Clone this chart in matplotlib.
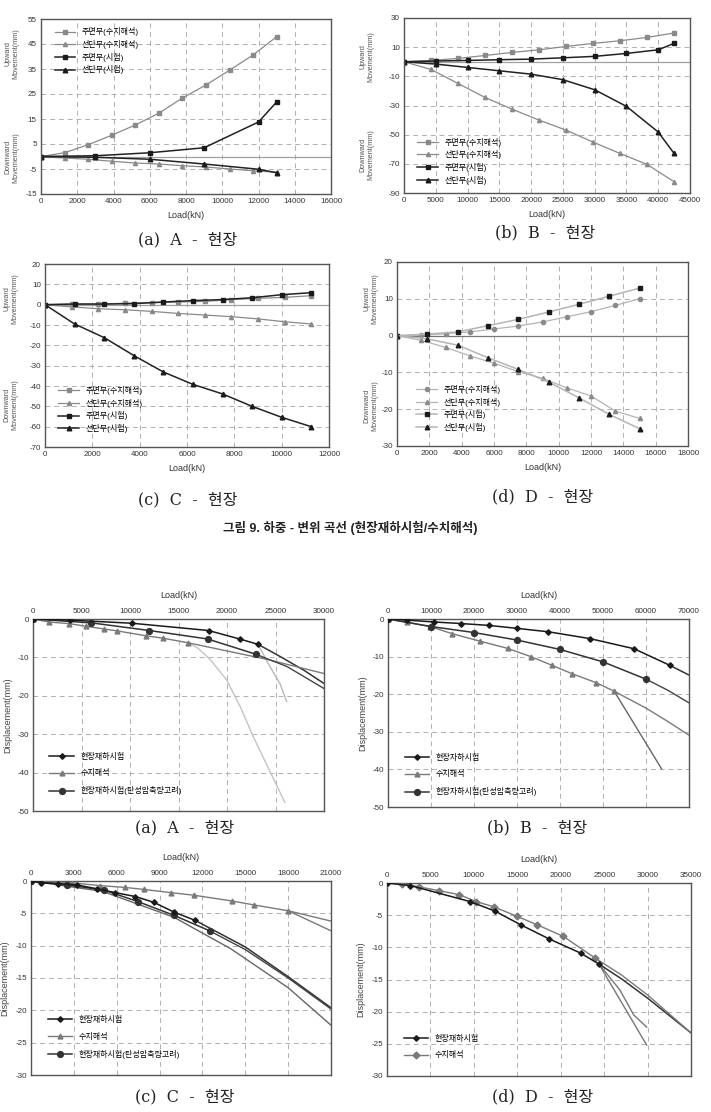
import matplotlib
matplotlib.use("Agg")
import matplotlib.pyplot as plt

plt.rcParams['font.family'] = ['Liberation Sans', 'Noto Sans CJK KR']
plt.rcParams['axes.unicode_minus'] = False

# ---------------- Top figure data (Fig. 9) ----------------
LBL_TOP = ['주면부(수치해석)', '선단부(수치해석)', '주면부(시험)', '선단부(시험)']

A_x_num = [0, 1300, 2600, 3900, 5200, 6500, 7800, 9100, 10400, 11700, 13000]
A_skin_num = [0, 1.5, 4.7, 8.5, 12.6, 17.3, 23.4, 28.6, 34.5, 40.6, 47.9]
A_tip_num = [0, -0.6, -1.1, -1.9, -2.6, -3.0, -3.7, -4.2, -5.0, -5.7, -6.3]
A_x_test = [0, 3000, 6000, 9000, 12000, 13000]
A_skin_test = [0, 0.3, 1.5, 3.5, 13.8, 21.8]
A_tip_test = [0, -0.3, -1.1, -3.0, -5.1, -6.5]

B_x_num = [0, 4250, 8500, 12750, 17000, 21250, 25500, 29750, 34000, 38250, 42500]
B_skin_num = [0, 0.9, 2.3, 4.3, 6.4, 8.2, 10.5, 12.6, 14.4, 16.7, 19.7]
B_tip_num = [0, -5.3, -14.9, -24.5, -32.5, -40.0, -46.9, -55.1, -62.9, -70.4, -82.3]
B_x_test = [0, 5000, 10000, 15000, 20000, 25000, 30000, 35000, 40000, 42500]
B_skin_test = [0, 0.5, 0.9, 1.4, 1.8, 2.7, 3.7, 5.7, 8.2, 12.6]
B_tip_test = [0, -1.6, -3.9, -6.2, -8.5, -12.3, -19.2, -30.6, -48.2, -62.9]

C_x_num = [0, 1125, 2250, 3375, 4500, 5625, 6750, 7875, 9000, 10125, 11250]
C_skin_num = [0, 0.3, 0.3, 0.7, 1.0, 1.3, 1.6, 2.5, 3.1, 3.6, 4.4]
C_tip_num = [0, -1.1, -2.0, -2.5, -3.3, -4.3, -5.1, -5.9, -7.0, -8.4, -9.5]
C_x_test = [0, 1250, 2500, 3750, 5000, 6250, 7500, 8750, 10000, 11250]
C_skin_test = [0, 0.3, 0.3, 0.5, 1.3, 2.0, 2.5, 3.4, 4.9, 5.9]
C_tip_test = [0, -9.5, -16.2, -25.0, -33.1, -39.2, -43.9, -50.0, -55.4, -60.0]

D_x_num = [0, 1500, 3000, 4500, 6000, 7500, 9000, 10500, 12000, 13500, 15000]
D_skin_num = [0, 0.1, 0.5, 1.0, 1.8, 2.6, 3.7, 5.1, 6.5, 8.2, 10.0]
D_tip_num = [0, -1.3, -3.2, -5.5, -7.5, -9.8, -11.6, -14.2, -16.4, -20.5, -22.5]
D_x_test = [0, 1875, 3750, 5625, 7500, 9375, 11250, 13125, 15000]
D_skin_test = [0, 0.4, 1.0, 2.7, 4.4, 6.4, 8.5, 10.7, 12.9]
D_tip_test = [0, -0.9, -2.6, -6.0, -9.2, -12.6, -16.9, -21.4, -25.3]

# ---------------- Bottom figure data ----------------
LBL_BOT = ['현장재하시험', '수치해석', '현장재하시험(탄성압축량고려)']
LBL_BOT_B = ['현장자하시험', '수치해석', '현장자하시험(탄성압축량고려)']

BA_field_x = [0, 3800, 10200, 18100, 21300, 23200]
BA_field_y = [0, -0.3, -1.1, -3.0, -5.2, -6.6]
BA_field_ext_x = [23200, 25500, 27900, 30000]
BA_field_ext_y = [-6.6, -9.8, -13.3, -16.8]
BA_num_x = [0, 1700, 3700, 5500, 7300, 8700, 11700, 13400, 16000]
BA_num_y = [0, -0.8, -1.2, -1.9, -2.6, -3.1, -4.4, -5.0, -6.2]
BA_num_ext_x = [16000, 24100, 30000]
BA_num_ext_y = [-6.2, -10.5, -14.2]
BA_el_x = [0, 6000, 12000, 18000, 23000]
BA_el_y = [0, -1.0, -3.0, -5.2, -9.2]
BA_el_ext_x = [23000, 26200, 30000]
BA_el_ext_y = [-9.2, -12.4, -18.1]
BA_fit1_x = [16000, 17000, 18250, 19970, 21400, 22700, 25970]
BA_fit1_y = [-6.2, -7.6, -10.5, -15.9, -23.0, -30.6, -47.8]
BA_fit2_x = [23200, 24430, 25460, 26150]
BA_fit2_y = [-6.6, -12.4, -16.8, -21.5]

BB_field_x = [0, 4400, 10800, 16900, 23400, 30100, 37300, 46900, 57200, 65500]
BB_field_y = [0, -0.3, -0.8, -1.2, -1.7, -2.5, -3.4, -5.2, -7.9, -12.3]
BB_field_ext_x = [65500, 70000]
BB_field_ext_y = [-12.3, -14.9]
BB_num_x = [0, 4400, 9800, 14900, 21400, 27800, 33200, 38100, 42700, 48300, 52600]
BB_num_y = [0, -0.9, -2.0, -3.9, -5.9, -7.8, -10.0, -12.3, -14.5, -16.9, -19.2]
BB_num_ext1_x = [52600, 60000, 65000, 70000]
BB_num_ext1_y = [-19.2, -23.7, -27.2, -30.9]
BB_num_ext2_x = [52600, 63600]
BB_num_ext2_y = [-19.2, -39.8]
BB_el_x = [0, 10000, 20000, 30000, 40000, 50000, 60000]
BB_el_y = [0, -2.0, -3.6, -5.6, -8.1, -11.4, -16.0]
BB_el_ext_x = [60000, 65000, 70000]
BB_el_ext_y = [-16.0, -18.9, -22.3]

BC_field_x = [0, 700, 1900, 3200, 4600, 5900, 7300, 8600, 10000, 11500]
BC_field_y = [0, -0.3, -0.4, -0.6, -1.2, -1.8, -2.4, -3.3, -4.8, -6.1]
BC_field_ext_x = [11500, 15000, 18000, 21000]
BC_field_ext_y = [-6.1, -10.2, -14.8, -19.6]
BC_num_x = [0, 2900, 4800, 6600, 7900, 9800, 11400, 14100, 15600, 18000]
BC_num_y = [0, -0.3, -0.7, -1.0, -1.3, -1.8, -2.2, -3.1, -3.7, -4.6]
BC_num_ext1_x = [18000, 21000]
BC_num_ext1_y = [-4.6, -6.2]
BC_num_ext2_x = [18000, 21000]
BC_num_ext2_y = [-4.6, -7.7]
BC_el_x = [0, 2500, 5100, 7500, 10000, 12500]
BC_el_y = [0, -0.6, -1.4, -3.2, -5.3, -7.7]
BC_el_ext_x = [12500, 15000, 18000, 21000]
BC_el_ext_y = [-7.7, -10.6, -15.0, -19.8]
BC_fit_x = [0, 5000, 10000, 14000, 18000, 21000]
BC_fit_y = [0, -1.6, -5.6, -10.5, -16.5, -22.3]

BD_field_x = [0, 2700, 9600, 12400, 15400, 18600, 22300, 24400]
BD_field_y = [0, -0.4, -2.9, -4.35, -6.5, -8.65, -10.9, -12.6]
BD_field_ext_x = [24400, 27000, 30000, 35000]
BD_field_ext_y = [-12.6, -14.9, -17.9, -23.3]
BD_num_x = [0, 1700, 3700, 6000, 8300, 10300, 12300, 15000, 17300, 20300, 24000]
BD_num_y = [0, -0.15, -0.6, -1.2, -1.8, -2.9, -3.7, -5.2, -6.5, -8.3, -11.7]
BD_num_ext_x = [24000, 27000, 30000, 35000]
BD_num_ext_y = [-11.7, -14.3, -17.4, -23.3]
BD_fit1_x = [24400, 29900]
BD_fit1_y = [-12.6, -25.2]
BD_fit2_x = [24400, 26800, 28400, 29900]
BD_fit2_y = [-12.6, -16.6, -20.5, -22.4]

W, H = 711, 1112
fig = plt.figure(figsize=(W / 100, H / 100), dpi=100)


def add_ax(l, r, t, b):
    return fig.add_axes([l / W, 1 - b / H, (r - l) / W, (b - t) / H])


GRAY = '#8a8a8a'
BLACK = '#1a1a1a'
TICKFS = 5.8


def style(ax, xlim, xticks, ylim, yticks, top=False):
    ax.set_xlim(*xlim)
    ax.set_ylim(*ylim)
    ax.set_xticks(xticks)
    ax.set_yticks(yticks)
    ax.grid(True, linestyle=(0, (5, 4)), color='#b0b0b0', linewidth=0.7)
    ax.set_axisbelow(True)
    ax.tick_params(length=0, labelsize=TICKFS, pad=3, colors='#333333')
    for s in ax.spines.values():
        s.set_color('#555555')
        s.set_linewidth(1.0)
    if top:
        ax.xaxis.tick_top()
        ax.xaxis.set_label_position('top')
        ax.set_xlabel('Load(kN)', fontsize=6.5, labelpad=7, color='#333333')
    else:
        ax.set_xlabel('Load(kN)', fontsize=6.5, labelpad=4, color='#333333')


def updown(ax, xf, yup, ydn):
    ax.text(xf, yup, 'Upward\nMovement(mm)', transform=ax.transAxes, rotation=90,
            ha='center', va='center', fontsize=5.2, color='#555555', linespacing=1.1)
    ax.text(xf, ydn, 'Downward\nMovement(mm)', transform=ax.transAxes, rotation=90,
            ha='center', va='center', fontsize=5.2, color='#555555', linespacing=1.1)


def top_series(ax, xn, sn, tn, xt, st, tt, light=False):
    lc_g = '#b5b5b5' if light else GRAY
    lc_b = '#b5b5b5' if light else '#222222'
    ax.plot(xn, sn, color=lc_g, lw=0.9, marker='o' if light else 's', ms=3,
            mfc=GRAY, mec=GRAY, label=LBL_TOP[0])
    ax.plot(xn, tn, color=lc_g, lw=0.9, marker='^', ms=3,
            mfc=GRAY, mec=GRAY, label=LBL_TOP[1])
    ax.plot(xt, st, color=lc_b, lw=1.1, marker='s', ms=3.5,
            mfc=BLACK, mec=BLACK, label=LBL_TOP[2])
    ax.plot(xt, tt, color=lc_b, lw=1.1, marker='^', ms=3.3,
            mfc=BLACK, mec=BLACK, label=LBL_TOP[3])


def caption(x, y, letter, site):
    fig.text(x / W, 1 - y / H, '(%s)  %s  -  현장' % (letter, site), ha='center', va='center',
             fontsize=11.5, family=['DejaVu Serif', 'Noto Sans CJK KR'], color='#222222')


# ---- top (a)
ax = add_ax(41, 331, 19, 194)
style(ax, (0, 16000), range(0, 16001, 2000), (-15, 55), range(-15, 56, 10))
ax.axhline(0, color='#a0a0a0', lw=0.9)
top_series(ax, A_x_num, A_skin_num, A_tip_num, A_x_test, A_skin_test, A_tip_test)
updown(ax, -0.10, 0.80, 0.21)
ax.legend(loc='upper left', bbox_to_anchor=(0.03, 0.98), frameon=False, fontsize=5.8,
          handlelength=2.6, labelspacing=0.45, borderaxespad=0.2)
caption(188, 240, 'a', 'A')

# ---- top (b)
ax = add_ax(404, 690, 18, 193)
style(ax, (0, 45000), range(0, 45001, 5000), (-90, 30), range(-90, 31, 20))
ax.axhline(0, color='#a0a0a0', lw=0.9)
top_series(ax, B_x_num, B_skin_num, B_tip_num, B_x_test, B_skin_test, B_tip_test)
updown(ax, -0.13, 0.78, 0.22)
ax.legend(loc='lower left', bbox_to_anchor=(0.03, 0.02), frameon=False, fontsize=5.8,
          handlelength=2.6, labelspacing=0.45, borderaxespad=0.2)
caption(545, 233, 'b', 'B')

# ---- top (c)
ax = add_ax(45, 329, 264, 447)
style(ax, (0, 12000), range(0, 12001, 2000), (-70, 20), range(-70, 21, 10))
ax.axhline(0, color='#a0a0a0', lw=0.9)
top_series(ax, C_x_num, C_skin_num, C_tip_num, C_x_test, C_skin_test, C_tip_test)
updown(ax, -0.12, 0.81, 0.23)
ax.legend(loc='lower left', bbox_to_anchor=(0.03, 0.05), frameon=False, fontsize=5.8,
          handlelength=2.6, labelspacing=0.45, borderaxespad=0.2)
caption(188, 500, 'c', 'C')

# ---- top (d)
ax = add_ax(397, 688, 262, 446)
style(ax, (0, 18000), range(0, 18001, 2000), (-30, 20), range(-30, 21, 10))
ax.axhline(0, color='#777777', lw=0.9)
top_series(ax, D_x_num, D_skin_num, D_tip_num, D_x_test, D_skin_test, D_tip_test, light=True)
updown(ax, -0.09, 0.80, 0.22)
ax.legend(loc='lower left', bbox_to_anchor=(0.05, 0.05), frameon=False, fontsize=5.8,
          handlelength=2.6, labelspacing=0.45, borderaxespad=0.2)
caption(543, 497, 'd', 'D')

# ---- figure caption
fig.text(350 / W, 1 - 528 / H, '그림 9. 하중 - 변위 곡선 (현장재하시험/수치해석)', ha='center', va='center',
         fontsize=9, fontweight='bold', color='#222222')


def bottom_style(ax, xmax, xstep, ymin, ystep):
    style(ax, (0, xmax), range(0, xmax + 1, xstep), (ymin, 0), range(ymin, 1, ystep), top=True)
    ax.set_ylabel('Displacement(mm)', fontsize=6.5, color='#444444', labelpad=4)


def bottom_main(ax, fx, fy, nx, ny, ex, ey, labels, nmarker='^'):
    ax.plot(fx, fy, color=BLACK, lw=1.1, marker='D', ms=2.8, mfc=BLACK, mec=BLACK,
            label=labels[0], zorder=4)
    ax.plot(nx, ny, color='#7a7a7a', lw=1.0, marker=nmarker, ms=3.5, mfc='#7a7a7a',
            mec='#7a7a7a', label=labels[1], zorder=3)
    if ex is not None:
        ax.plot(ex, ey, color='#333333', lw=1.1, marker='o', ms=4.2, mfc='#333333',
                mec='#333333', label=labels[2], zorder=3)


def ext(ax, x, y, color='#555555', lw=1.0):
    ax.plot(x, y, color=color, lw=lw, zorder=2)


def bot_legend(ax, top_frac):
    ax.legend(loc='upper left', bbox_to_anchor=(0.04, top_frac), frameon=False, fontsize=5.8,
              handlelength=3.0, labelspacing=1.1, borderaxespad=0.2)


# ---- bottom (a)
ax = add_ax(33, 324, 619, 811)
bottom_style(ax, 30000, 5000, -50, 10)
ext(ax, BA_fit1_x, BA_fit1_y, color='#c4c4c4')
ext(ax, BA_fit2_x, BA_fit2_y, color='#b8b8b8')
ext(ax, BA_field_ext_x, BA_field_ext_y, color='#333333', lw=1.1)
ext(ax, BA_num_ext_x, BA_num_ext_y, color='#7a7a7a')
ext(ax, BA_el_ext_x, BA_el_ext_y, color='#444444')
bottom_main(ax, BA_field_x, BA_field_y, BA_num_x, BA_num_y, BA_el_x, BA_el_y, LBL_BOT)
bot_legend(ax, 0.33)
caption(185, 828, 'a', 'A')

# ---- bottom (b)
ax = add_ax(388, 689, 619, 807)
bottom_style(ax, 70000, 10000, -50, 10)
ext(ax, BB_field_ext_x, BB_field_ext_y, color='#333333', lw=1.1)
ext(ax, BB_num_ext1_x, BB_num_ext1_y, color='#7a7a7a')
ext(ax, BB_num_ext2_x, BB_num_ext2_y, color='#666666')
ext(ax, BB_el_ext_x, BB_el_ext_y, color='#444444')
bottom_main(ax, BB_field_x, BB_field_y, BB_num_x, BB_num_y, BB_el_x, BB_el_y, LBL_BOT_B)
bot_legend(ax, 0.31)
caption(537, 828, 'b', 'B')

# ---- bottom (c)
ax = add_ax(31, 331, 881, 1075)
bottom_style(ax, 21000, 3000, -30, 5)
ext(ax, BC_fit_x, BC_fit_y, color='#666666')
ext(ax, BC_field_ext_x, BC_field_ext_y, color='#333333', lw=1.1)
ext(ax, BC_el_ext_x, BC_el_ext_y, color='#444444')
ext(ax, BC_num_ext1_x, BC_num_ext1_y, color='#7a7a7a')
ext(ax, BC_num_ext2_x, BC_num_ext2_y, color='#7a7a7a')
bottom_main(ax, BC_field_x, BC_field_y, BC_num_x, BC_num_y, BC_el_x, BC_el_y, LBL_BOT)
bot_legend(ax, 0.33)
caption(185, 1097, 'c', 'C')

# ---- bottom (d)
ax = add_ax(387, 691, 883, 1076)
bottom_style(ax, 35000, 5000, -30, 5)
ext(ax, BD_fit1_x, BD_fit1_y, color='#777777')
ext(ax, BD_fit2_x, BD_fit2_y, color='#777777')
ext(ax, BD_field_ext_x, BD_field_ext_y, color='#333333', lw=1.1)
ext(ax, BD_num_ext_x, BD_num_ext_y, color='#7a7a7a')
bottom_main(ax, BD_field_x, BD_field_y, BD_num_x, BD_num_y, None, None, LBL_BOT, nmarker='D')
bot_legend(ax, 0.24)
caption(543, 1097, 'd', 'D')

fig.savefig('out.png', dpi=100, facecolor='white')
